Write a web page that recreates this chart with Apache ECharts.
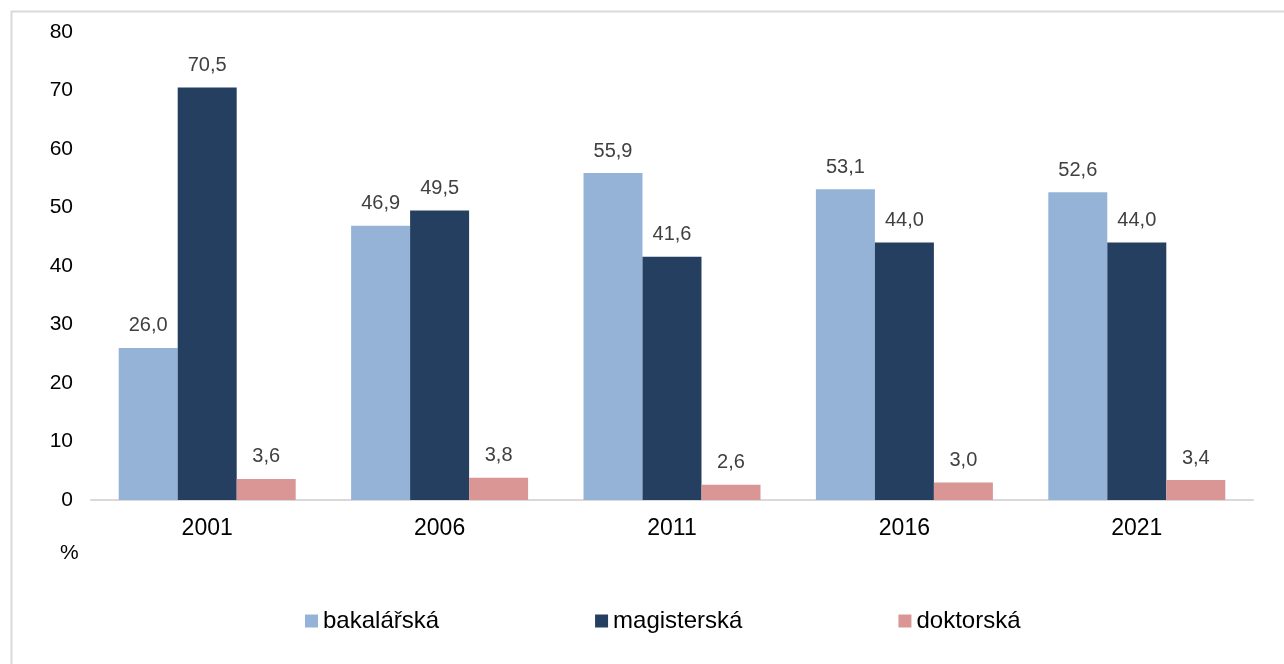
<!DOCTYPE html>
<html>
<head>
<meta charset="utf-8">
<script src="https://cdn.jsdelivr.net/npm/echarts@6/dist/echarts.min.js"></script>
<style>
  html, body { margin: 0; padding: 0; background: #fff; }
  #chart { width: 1284px; height: 664px; }
</style>
</head>
<body>
<div id="chart"></div>
<script>
// Podíl absolventů podle typu studijního programu (%)
const roky = ["2001", "2006", "2011", "2016", "2021"];
const bakalarska = [26.0, 46.9, 55.9, 53.1, 52.6];
const magisterska = [70.5, 49.5, 41.6, 44.0, 44.0];
const doktorska = [3.6, 3.8, 2.6, 3.0, 3.4];
const yTicks = [0, 10, 20, 30, 40, 50, 60, 70, 80];

const fontRodina = "'Liberation Sans', Arial, sans-serif";

const chart = echarts.init(document.getElementById("chart"));

function serie(name, data, color) {
    return {
        name: name,
        type: "bar",
        data: data,
        barWidth: 59,
        barGap: "0%",
        itemStyle: { color: color },
        label: {
            show: true,
            position: "top",
            distance: 12,
            color: "#404040",
            fontSize: 20,
            fontFamily: fontRodina,
            formatter: p => p.value.toFixed(1).replace(".", ",")
        }
    };
}

const option = {
    animation: false,
    backgroundColor: "#fff",
    grid: { left: 91, right: 31, top: 32, bottom: 164 },
    legend: {
        top: 604,
        left: 300,
        itemWidth: 13,
        itemHeight: 13,
        itemGap: 156,
        icon: "rect",
        textStyle: { fontSize: 24, color: "#000", fontFamily: fontRodina },
        data: ["bakalářská", "magisterská", "doktorská"]
    },
    xAxis: {
        type: "category",
        data: roky,
        axisLine: { lineStyle: { color: "#d9d9d9", width: 2 } },
        axisTick: { show: false },
        axisLabel: { color: "#000", fontSize: 23, fontFamily: fontRodina, margin: 17 }
    },
    yAxis: {
        type: "value",
        min: yTicks[0],
        max: yTicks[yTicks.length - 1],
        interval: 10,
        axisLine: { show: false },
        axisTick: { show: false },
        splitLine: { show: false },
        axisLabel: { color: "#000", fontSize: 21, fontFamily: fontRodina, margin: 18 }
    },
    graphic: [
        {
            type: "rect",
            left: 9, top: 9,
            shape: { width: 1300, height: 700 },
            style: { fill: "none", stroke: "#d9d9d9", lineWidth: 2 },
            silent: true
        },
        {
            type: "text",
            left: 60, top: 543,
            style: { text: "%", fontSize: 21, fill: "#000", fontFamily: fontRodina }
        }
    ],
    series: [
        serie("bakalářská", bakalarska, "#95b3d7"),
        serie("magisterská", magisterska, "#253f60"),
        serie("doktorská", doktorska, "#d99694")
    ]
};

chart.setOption(option);
</script>
</body>
</html>
